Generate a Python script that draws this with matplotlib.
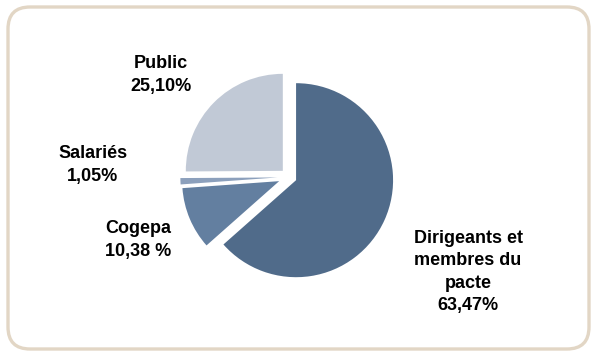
import matplotlib.pyplot as plt
from matplotlib.patches import FancyBboxPatch

# === DATA ===
categories = ["Dirigeants et\nmembres du\npacte", "Cogepa", "Salariés", "Public"]
shares = [63.47, 10.38, 1.05, 25.10]
share_labels = ["63,47%", "10,38 %", "1,05%", "25,10%"]

colors = ["#506b8a", "#637fa0", "#8ca0bc", "#c1c9d6"]
explode_frac = [0.08, 0.11, 0.12, 0.09]

# label anchor positions in pixels (x, y from top)
label_pos = [(468, 272), (138, 240), (93, 165), (161, 75)]

W, H = 597, 355
RADIUS = 97

fig = plt.figure(figsize=(W / 100, H / 100), dpi=100)
ax = fig.add_axes([0, 0, 1, 1])

# rounded frame
frame = FancyBboxPatch((8, 6), W - 16, H - 13,
                       boxstyle="round,pad=0,rounding_size=22",
                       facecolor="white", edgecolor="#e2d6c5", linewidth=2.4)
ax.add_patch(frame)

# explode in pie() is in data units, so scale by the radius
ax.pie(shares, colors=colors, explode=[e * RADIUS for e in explode_frac],
       startangle=90, counterclock=False,
       center=(289, H - 177), radius=RADIUS, frame=True,
       wedgeprops={"linewidth": 0})
ax.set_xlim(0, W)
ax.set_ylim(0, H)
ax.set_aspect("equal")
ax.axis("off")

for name, lab, (x, y) in zip(categories, share_labels, label_pos):
    ax.text(x, H - y, f"{name}\n{lab}", ha="center", va="center",
            fontsize=13, fontweight="bold", family="Liberation Sans",
            linespacing=1.4, color="black")

fig.savefig("out.png", dpi=100)
